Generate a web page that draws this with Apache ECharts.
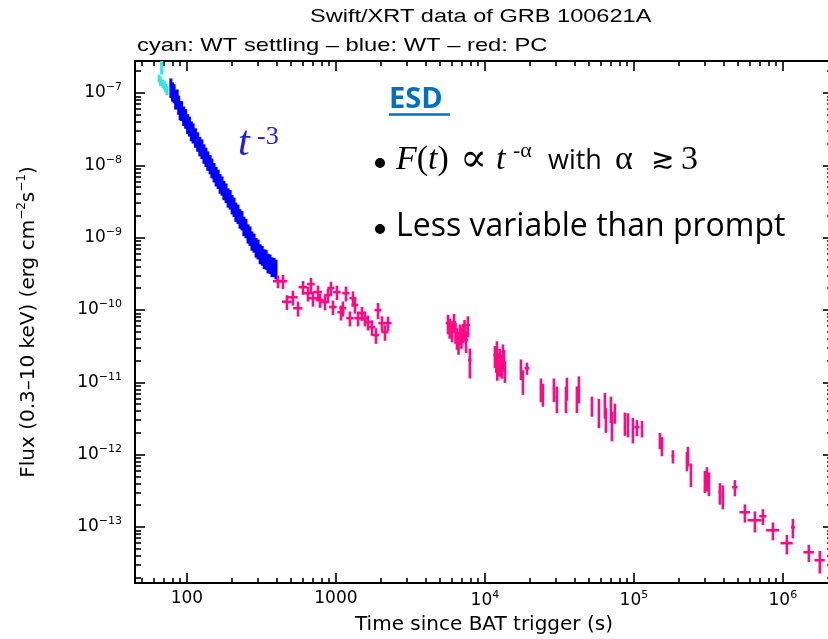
<!DOCTYPE html>
<html><head><meta charset="utf-8">
<script src="https://cdn.jsdelivr.net/npm/echarts@6/dist/echarts.min.js"></script>
<style>html,body{margin:0;padding:0;background:#fff}#c{width:828px;height:639px}</style>
</head><body><div id="c"></div>
<script>
// ---- data (time in s, flux in erg cm^-2 s^-1) ----
const cyanTime    = [65, 66.5, 67.6, 69, 70.5, 72, 73.5];
const cyanTimeErr = [0.7, 0.7, 0.7, 0.7, 0.7, 0.7, 0.7];
const cyanFlux    = [1.6e-7, 1.45e-7, 2.3e-7, 1.35e-7, 1.28e-7, 1.18e-7, 1.08e-7];
const cyanFluxErr = [0.2e-7, 0.2e-7, 0.5e-7, 0.18e-7, 0.17e-7, 0.16e-7, 0.15e-7];

const wtTime = [78,80,82,84,86,88,90,92,95,98,101,104,107,110,114,118,122,126,130,134,138,143,147,152,157,162,167,172,177,183,189,195,201,207,213,220,227,234,241,249,257,265,273,282,291,300,310,320,330,340,350,361,372,384,396];
const wtTimeErr = [1,1,1,1,1,1,1,1,1.5,1.5,1.5,1.5,1.5,1.5,2,2,2,2,2,2,2,2.5,2.5,2.5,2.5,2.5,2.5,2.5,2.5,3,3,3,3,3,3,3.5,3.5,3.5,3.5,4,4,4,4,4.5,4.5,4.5,5,5,5,5,5,5.5,5.5,6,6];
const wtFlux = [1.22e-7,1.08e-7,1.02e-7,8.4e-8,8.6e-8,7.1e-8,6.0e-8,5.9e-8,5.0e-8,4.6e-8,3.9e-8,3.6e-8,3.1e-8,2.9e-8,2.5e-8,2.2e-8,1.9e-8,1.75e-8,1.5e-8,1.35e-8,1.2e-8,1.07e-8,9.5e-9,8.3e-9,7.3e-9,6.7e-9,5.8e-9,5.4e-9,4.7e-9,4.3e-9,3.7e-9,3.5e-9,3.0e-9,2.75e-9,2.35e-9,2.2e-9,1.9e-9,1.8e-9,1.5e-9,1.4e-9,1.18e-9,1.1e-9,9.4e-10,8.8e-10,7.6e-10,7.2e-10,6.2e-10,5.9e-10,5.3e-10,5.2e-10,4.6e-10,4.5e-10,4.1e-10,4.05e-10,3.8e-10];
const wtFluxErr = [0.37e-7,0.32e-7,0.3e-7,2.5e-8,2.6e-8,2.1e-8,1.8e-8,1.8e-8,1.5e-8,1.4e-8,1.2e-8,1.1e-8,0.95e-8,0.9e-8,0.75e-8,0.66e-8,0.57e-8,0.53e-8,0.45e-8,0.4e-8,0.36e-8,0.32e-8,2.9e-9,2.5e-9,2.2e-9,2.0e-9,1.75e-9,1.6e-9,1.4e-9,1.3e-9,1.1e-9,1.05e-9,0.9e-9,0.82e-9,0.7e-9,0.66e-9,0.57e-9,0.54e-9,0.45e-9,0.42e-9,0.35e-9,0.33e-9,0.28e-9,2.6e-10,2.3e-10,2.2e-10,1.9e-10,1.8e-10,1.6e-10,1.6e-10,1.4e-10,1.35e-10,1.25e-10,1.2e-10,1.15e-10];

const pcTime = [408,441,469,514,556,601,649,680,701,757,781,844,884,926,955,1016,1081,1114,1167,1241,1300,1342,1406,1494,1565,1640,1745,1855,1914,2036,2133,2235,
  5649,6012,6196,6491,6800,7124,7463,7686,7920,5800,6350,6650,6950,7300,
  11670,12040,12230,12400,12600,13000,13210,13620,11900,12100,12800,13400,
  17450,17990,19140,23760,24490,29040,30420,34970,35500,41430,42730,52240,58210,63860,64840,70110,71160,74510,87030,91140,98450,104700,113200,149400,154100,182800,226900,230300,241400,299700,309100,318700,377600,395400,476200,555900,648800,734500,857300,1064000,1167000,1494000,1770000];
const pcTimeErr = [30,30,35,40,40,40,45,40,45,50,45,50,50,50,55,60,60,60,65,70,70,70,80,80,85,90,95,100,100,110,115,120,
  200,200,200,220,230,240,250,260,200,200,220,230,240,250,
  250,250,250,250,250,250,250,250,250,250,250,250,
  300,300,700,400,400,500,500,500,500,600,800,800,800,900,900,1000,1000,1200,1200,1200,1500,4000,1500,2000,2000,4000,3000,3000,3000,5000,5000,5000,8000,8000,20000,45000,70000,40000,85000,100000,35000,120000,140000];
const pcFlux = [2.5e-10,2.5e-10,1.3e-10,1.5e-10,1.06e-10,2.07e-10,1.71e-10,2.28e-10,1.46e-10,1.77e-10,1.37e-10,1.29e-10,1.61e-10,2.01e-10,1.10e-10,1.77e-10,9.35e-11,1.06e-10,1.71e-10,7.73e-11,1.46e-10,1.17e-10,7.73e-11,9.06e-11,7.73e-11,6.81e-11,5.80e-11,4.50e-11,9.97e-11,6.59e-11,4.95e-11,6.59e-11,
  6.59e-11,5.27e-11,6.81e-11,4.22e-11,4.79e-11,4.95e-11,3.84e-11,6.18e-11,2.03e-11,5.8e-11,5.0e-11,3.6e-11,4.3e-11,5.6e-11,
  2.38e-11,2.79e-11,1.90e-11,1.75e-11,2.2e-11,1.62e-11,2.54e-11,1.48e-11,2.0e-11,1.55e-11,1.8e-11,2.1e-11,
  1.57e-11,1.07e-11,1.57e-11,8.31e-12,7.10e-12,8.31e-12,6.24e-12,6.24e-12,8.59e-12,6.24e-12,8.59e-12,4.84e-12,4.12e-12,5.15e-12,3.20e-12,4.54e-12,2.73e-12,3.87e-12,2.82e-12,2.73e-12,2.33e-12,2.40e-12,2.33e-12,1.59e-12,1.35e-12,9.53e-13,8.39e-13,9.84e-13,5.55e-13,4.44e-13,4.89e-13,4.17e-13,3.03e-13,2.75e-13,3.55e-13,1.60e-13,1.24e-13,1.41e-13,9.03e-14,5.97e-14,9.93e-14,4.48e-14,3.47e-14];
const pcFluxErr = [0.5e-10,0.55e-10,0.3e-10,0.35e-10,0.25e-10,0.45e-10,0.4e-10,0.5e-10,0.35e-10,0.4e-10,0.3e-10,0.3e-10,0.35e-10,0.45e-10,0.25e-10,0.4e-10,0.22e-10,0.25e-10,0.4e-10,0.18e-10,0.35e-10,0.28e-10,0.18e-10,0.2e-10,0.18e-10,0.16e-10,0.14e-10,0.11e-10,0.25e-10,0.16e-10,0.12e-10,0.15e-10,
  0.2e-10,0.17e-10,0.2e-10,0.14e-10,0.15e-10,0.15e-10,0.13e-10,0.2e-10,0.9e-11,0.18e-10,0.16e-10,0.12e-10,0.14e-10,0.17e-10,
  0.8e-11,0.9e-11,0.6e-11,0.55e-11,0.7e-11,0.5e-11,0.8e-11,0.5e-11,0.65e-11,0.5e-11,0.6e-11,0.7e-11,
  0.5e-11,0.4e-11,0.3e-11,0.3e-11,0.25e-11,0.3e-11,0.25e-11,0.25e-11,0.3e-11,0.25e-11,0.35e-11,0.15e-11,0.18e-11,0.2e-11,0.12e-11,0.18e-11,0.12e-11,0.12e-11,0.1e-11,0.1e-11,0.9e-12,0.6e-12,0.6e-12,0.4e-12,0.4e-12,0.2e-12,0.25e-12,0.3e-12,0.2e-12,0.15e-12,0.18e-12,0.15e-12,0.1e-12,0.1e-12,0.9e-13,0.45e-13,0.4e-13,0.35e-13,0.25e-13,0.18e-13,0.3e-13,0.12e-13,0.12e-13];

// ---- axis ranges and tick values ----
const X_MIN = 44.8, X_MAX = 2.17e6;
const Y_MIN = 1.68e-14, Y_MAX = 2.77e-7;
const xMajor = [100, 1000, 1e4, 1e5, 1e6];
const yMajor = [1e-13, 1e-12, 1e-11, 1e-10, 1e-9, 1e-8, 1e-7];
const xMinor = [], yMinor = [];
for (let e = 1; e <= 6; e++) for (let k = 2; k <= 9; k++) { const v = k * Math.pow(10, e); if (v > X_MIN && v < 2e6) xMinor.push(v); }
for (let e = -14; e <= -7; e++) for (let k = 2; k <= 9; k++) { const v = +(k * Math.pow(10, e)).toPrecision(3); if (v > Y_MIN && v < Y_MAX) yMinor.push(v); }

const FONT = '"DejaVu Sans", "Liberation Sans", sans-serif';
const isPow10 = v => Math.abs(Math.log10(v) - Math.round(Math.log10(v))) < 1e-6;
const supRich = {
  b: { fontSize: 17, fontFamily: FONT, color: '#000', lineHeight: 22 },
  s: { fontSize: 11, fontFamily: FONT, color: '#000', verticalAlign: 'top', lineHeight: 13 }
};

function zip(t, te, f, fe) { return t.map((v, i) => [v, te[i], f[i], fe[i]]); }
function errRender(color, w) {
  return function (params, api) {
    const t = api.value(0), te = api.value(1), f = api.value(2), fe = api.value(3);
    const l = api.coord([t - te, f]), r = api.coord([t + te, f]);
    const b = api.coord([t, f - fe]), u = api.coord([t, f + fe]);
    const st = { stroke: color, lineWidth: w };
    return { type: 'group', children: [
      { type: 'line', shape: { x1: l[0], y1: l[1], x2: r[0], y2: r[1] }, style: st },
      { type: 'line', shape: { x1: b[0], y1: b[1], x2: u[0], y2: u[1] }, style: st }
    ] };
  };
}

const GRID = { left: 135, top: 61, width: 698, height: 522, containLabel: false, outerBoundsMode: 'none' };
const axisLineStyle = { show: true, lineStyle: { color: '#000', width: 2 } };

function xAxis(gi, pos, ticks, len, main) {
  return {
    gridIndex: gi, type: 'log', position: pos, min: X_MIN, max: X_MAX,
    axisLine: main ? axisLineStyle : { show: false },
    axisTick: { show: true, inside: true, length: len, customValues: ticks, lineStyle: { color: '#000', width: 1.6 } },
    minorTick: { show: false }, splitLine: { show: false },
    axisLabel: (gi === 0) ? {
      show: true, customValues: xMajor, margin: 7, fontSize: 17, fontFamily: FONT, color: '#000',
      formatter: v => { if (!isPow10(v)) return ''; const e = Math.round(Math.log10(v)); return e <= 3 ? String(Math.round(v)) : '{b|10}{s|' + e + '}'; },
      rich: supRich
    } : { show: false },
    name: gi === 0 ? 'Time since BAT trigger (s)' : '', nameLocation: 'middle', nameGap: 27,
    nameTextStyle: { fontSize: 20, fontFamily: FONT, color: '#000' }
  };
}
function yAxis(gi, pos, ticks, len, main) {
  return {
    gridIndex: gi, type: 'log', position: pos, min: Y_MIN, max: Y_MAX,
    axisLine: main ? axisLineStyle : { show: false },
    axisTick: { show: true, inside: true, length: len, customValues: ticks, lineStyle: { color: '#000', width: 1.6 } },
    minorTick: { show: false }, splitLine: { show: false },
    axisLabel: (gi === 0) ? {
      show: true, customValues: yMajor, margin: 13, fontSize: 17, fontFamily: FONT, color: '#000',
      formatter: v => { if (!isPow10(v)) return ''; const e = Math.round(Math.log10(v)); return '{b|10}{s|\u2212' + (-e) + '}'; },
      rich: supRich
    } : { show: false },
    name: gi === 0 ? 'Flux (0.3\u201310 keV) (erg cm{s|\u22122}s{s|\u22121})' : '', nameLocation: 'middle', nameGap: 93,
    nameRotate: 90,
    nameTextStyle: { fontSize: 20, fontFamily: FONT, color: '#000', lineHeight: 26,
      rich: { s: { fontSize: 12, fontFamily: FONT, color: '#000', verticalAlign: 'top', lineHeight: 14 } } }
  };
}

const SERIF = '"Liberation Serif", "DejaVu Serif", serif';
const TXT = { align: 'left', verticalAlign: 'middle', textAlign: 'left', textVerticalAlign: 'middle' };
function txt(x, y, text, font, fill, extra) {
  return Object.assign({ type: 'text', x: x, y: y, silent: true, style: Object.assign({ text: text, font: font, fill: fill || '#000' }, TXT) }, extra || {});
}
const option = {
  backgroundColor: '#fff',
  animation: false,
  grid: [GRID, GRID, GRID, GRID].map(g => Object.assign({}, g)),
  xAxis: [xAxis(0, 'bottom', xMajor, 10, true), xAxis(1, 'bottom', xMinor, 5, false), xAxis(2, 'top', xMajor, 10, true), xAxis(3, 'top', xMinor, 5, false)],
  yAxis: [yAxis(0, 'left', yMajor, 10, true), yAxis(1, 'left', yMinor, 6, false), yAxis(2, 'right', yMajor, 10, true), yAxis(3, 'right', yMinor, 6, false)],
  series: [
    { name: 'WT settling', type: 'custom', xAxisIndex: 0, yAxisIndex: 0, clip: true, renderItem: errRender('#33e6e6', 3), encode: { x: 0, y: 2 }, data: zip(cyanTime, cyanTimeErr, cyanFlux, cyanFluxErr) },
    { name: 'WT', type: 'custom', xAxisIndex: 0, yAxisIndex: 0, clip: true, renderItem: errRender('#0000ff', 3), encode: { x: 0, y: 2 }, data: zip(wtTime, wtTimeErr, wtFlux, wtFluxErr) },
    { name: 'PC', type: 'custom', xAxisIndex: 0, yAxisIndex: 0, clip: true, renderItem: errRender('#ff0a84', 2.6), encode: { x: 0, y: 2 }, data: zip(pcTime, pcTimeErr, pcFlux, pcFluxErr) }
  ],
  graphic: [
    txt(310, 17, 'Swift/XRT data of GRB 100621A', '19px "Liberation Sans", Arial, sans-serif', '#000', { scaleX: 1.24 }),
    txt(137, 46, 'cyan: WT settling \u2013 blue: WT \u2013 red: PC', '19px "Liberation Sans", Arial, sans-serif', '#000', { scaleX: 1.25 }),
    // t^-3 annotation
    txt(238, 144, 't', 'italic 42px ' + SERIF, '#1b1bf0'),
    txt(257, 137, '-3', '26px ' + SERIF, '#1b1bf0'),
    // ESD
    txt(389, 100, 'ESD', 'bold 29px "Open Sans", sans-serif', '#0070c0'),
    { type: 'line', silent: true, shape: { x1: 389, y1: 114.5, x2: 450, y2: 114.5 }, style: { stroke: '#0070c0', lineWidth: 2.5 } },
    // bullet 1
    { type: 'circle', silent: true, shape: { cx: 380, cy: 163, r: 5 }, style: { fill: '#000' } },
    { type: 'text', x: 396, y: 160, silent: true, style: Object.assign({ text: '{i|F}{r|(}{i|t}{r|)}', font: '34px ' + SERIF, fill: '#000',
        rich: { i: { fontFamily: SERIF, fontStyle: 'italic', fontSize: 34, fill: '#000' }, r: { fontFamily: SERIF, fontSize: 34, fill: '#000' } } }, TXT) },
    txt(460, 160, '\u221D', '40px ' + SERIF),
    txt(496, 160, 't', 'italic 34px ' + SERIF),
    txt(513, 151, '-\u03B1', '22px ' + SERIF),
    txt(548, 161, 'with', '27px "Open Sans", sans-serif'),
    txt(615, 160, '\u03B1', '34px ' + SERIF),
    txt(651, 161, '\u2273', '28px "DejaVu Sans", sans-serif'),
    txt(681, 160, '3', '34px ' + SERIF),
    // bullet 2
    { type: 'circle', silent: true, shape: { cx: 380, cy: 229, r: 5 }, style: { fill: '#000' } },
    txt(396, 227, 'Less variable than prompt', '32px "Open Sans", sans-serif')
  ]
};

const chart = echarts.init(document.getElementById('c'), null, { renderer: 'canvas', width: 828, height: 639 });
chart.setOption(option);
</script>
</body></html>
